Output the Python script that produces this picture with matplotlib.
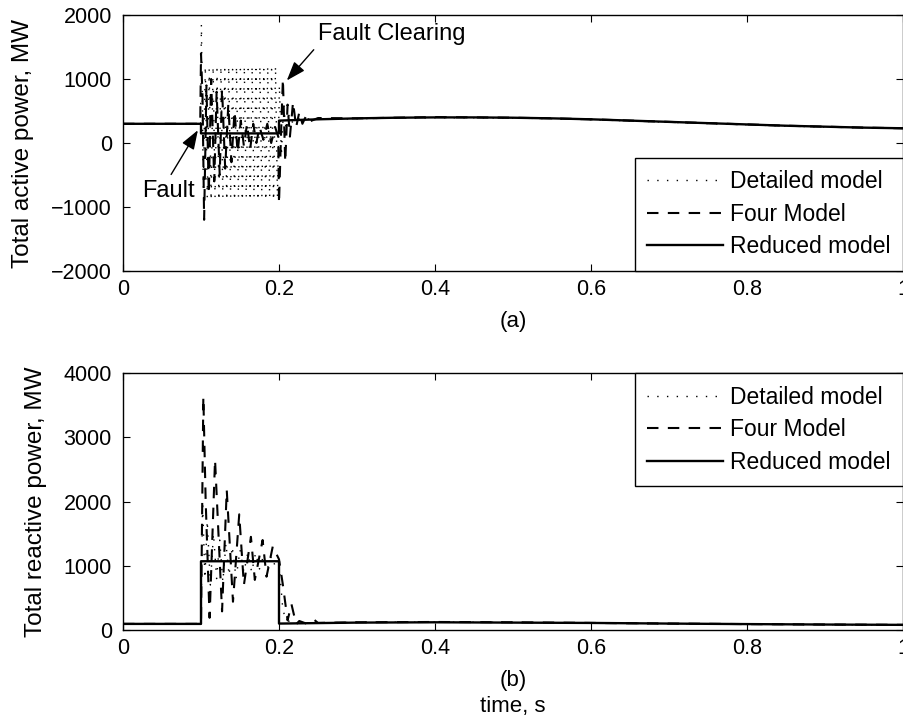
import matplotlib
matplotlib.use("Agg")
import matplotlib.pyplot as plt

plt.rcParams["font.family"] = ["Liberation Sans", "DejaVu Sans"]
plt.rcParams["font.size"] = 15.5

# ---- (a) total active power, MW ----
t_red_p = [0, 0.1, 0.1, 0.2, 0.2, 0.25, 0.3, 0.35, 0.4, 0.45, 0.5, 0.55, 0.6,
           0.65, 0.7, 0.75, 0.8, 0.85, 0.9, 0.95, 1.0]
p_red = [300, 300, 150, 150, 350, 370, 385, 395, 400, 400, 395, 385, 370,
         350, 330, 310, 290, 270, 255, 240, 230]

t_four_p = [0, 0.099, 0.100, 0.102, 0.104, 0.107, 0.110, 0.113, 0.117, 0.120,
            0.124, 0.127, 0.131, 0.135, 0.139, 0.143, 0.147, 0.151, 0.155,
            0.159, 0.163, 0.167, 0.171, 0.175, 0.180, 0.185, 0.190, 0.195,
            0.199, 0.200, 0.203, 0.205, 0.208, 0.211, 0.214, 0.218, 0.222,
            0.226, 0.230, 0.235, 0.240, 0.250, 0.3, 0.35, 0.4, 0.45, 0.5,
            0.55, 0.6, 0.65, 0.7, 0.75, 0.8, 0.85, 0.9, 0.95, 1.0]
p_four = [300, 300, 1400, 700, -1200, 900, -800, 1000, -600, 800,
          -500, 850, -400, 600, -300, 500, -150, 350, -50, 300, -100, 300,
          0, 250, 50, 300, 0, 250, 100, -950, 300, 1000, -300, 600, 100,
          640, 250, 480, 300, 430, 340, 390, 385, 395, 405, 400, 395,
          385, 370, 350, 330, 310, 290, 270, 255, 240, 230]

t_det_p = [0, 0.0995, 0.1005, 0.1030, 0.1055, 0.1080, 0.1105, 0.1130, 0.1155,
           0.1180, 0.1205, 0.1230, 0.1255, 0.1280, 0.1305, 0.1330, 0.1355,
           0.1380, 0.1405, 0.1430, 0.1455, 0.1480, 0.1505, 0.1530, 0.1555,
           0.1580, 0.1605, 0.1630, 0.1655, 0.1680, 0.1705, 0.1730, 0.1755,
           0.1780, 0.1805, 0.1830, 0.1855, 0.1880, 0.1905, 0.1930, 0.1955,
           0.1980, 0.2005, 0.2030, 0.2060, 0.2090, 0.2130, 0.2180, 0.2250,
           0.25, 0.3, 0.35, 0.4, 0.45, 0.5, 0.55, 0.6, 0.65, 0.7, 0.75, 0.8,
           0.85, 0.9, 0.95, 1.0]
p_det = [300, 300, 1850, -700, 1200, -850, 1150, -900, 1200, -850, 1150,
         -900, 1200, -850, 1150, -900, 1200, -850, 1150, -900, 1200, -850,
         1150, -900, 1200, -850, 1150, -900, 1200, -850, 1150, -900, 1200,
         -850, 1150, -900, 1200, -850, 1150, -900, 1200, -850, 900, -200,
         600, 200, 450, 300, 380, 370, 380, 390, 395, 395, 390, 380, 365,
         345, 325, 305, 285, 265, 250, 238, 228]

# ---- (b) total reactive power, MW ----
t_red_q = [0, 0.1, 0.1, 0.2, 0.2, 0.3, 0.4, 0.5, 0.6, 0.7, 0.8, 0.9, 1.0]
q_red = [95, 95, 1070, 1070, 100, 115, 120, 115, 110, 100, 92, 85, 80]

t_four_q = [0, 0.100, 0.101, 0.103, 0.106, 0.111, 0.118, 0.127, 0.133, 0.141,
            0.149, 0.155, 0.164, 0.169, 0.179, 0.184, 0.192, 0.200, 0.205,
            0.211, 0.216, 0.222, 0.226, 0.235, 0.245, 0.250, 0.3, 0.4, 0.5,
            0.6, 0.7, 0.8, 0.9, 1.0]
q_four = [95, 95, 1300, 3630, 2000, 190, 2650, 290, 2180, 440, 1800, 700,
          1450, 780, 1400, 830, 1300, 1100, 700, 150, 400, 90, 140, 100, 160,
          110, 120, 125, 120, 110, 100, 92, 85, 80]

t_det_q = [0, 0.100, 0.102, 0.105, 0.108, 0.112, 0.116, 0.120, 0.124, 0.128,
           0.132, 0.136, 0.140, 0.145, 0.150, 0.155, 0.160, 0.165, 0.170,
           0.175, 0.180, 0.185, 0.190, 0.195, 0.200, 0.205, 0.210, 0.220,
           0.230, 0.3, 0.4, 0.5, 0.6, 0.7, 0.8, 0.9, 1.0]
q_det = [95, 95, 2000, 800, 1700, 700, 1500, 800, 1400, 750, 1350, 850, 1300,
         800, 1250, 900, 1200, 900, 1200, 950, 1150, 950, 1150, 1000, 1050,
         300, 150, 100, 110, 118, 122, 118, 108, 98, 90, 84, 78]

fig = plt.figure(figsize=(9.04, 7.19), dpi=100)
ax1 = fig.add_axes([123 / 904, 1 - 271 / 719, 780 / 904, 256 / 719])
ax2 = fig.add_axes([123 / 904, 1 - 630 / 719, 780 / 904, 257 / 719])

dot_style = dict(color="black", lw=1.0, linestyle=(0, (1, 6)))
dash_style = dict(color="black", lw=1.5, linestyle=(0, (5.5, 4.5)))
solid_style = dict(color="black", lw=1.7, linestyle="-")

ax1.plot(t_det_p, p_det, label="Detailed model", **dot_style)
ax1.plot(t_four_p, p_four, label="Four Model", **dash_style)
ax1.plot(t_red_p, p_red, label="Reduced model", **solid_style)

ax2.plot(t_det_q, q_det, label="Detailed model", **dot_style)
ax2.plot(t_four_q, q_four, label="Four Model", **dash_style)
ax2.plot(t_red_q, q_red, label="Reduced model", **solid_style)

ax1.set_xlim(0, 1)
ax1.set_ylim(-2000, 2000)
ax1.set_yticks([-2000, -1000, 0, 1000, 2000])
ax1.set_ylabel("Total active power, MW", fontsize=17.5, labelpad=12)
ax1.set_xlabel("(a)", fontsize=16, labelpad=8)

ax2.set_xlim(0, 1)
ax2.set_ylim(0, 4000)
ax2.set_yticks([0, 1000, 2000, 3000, 4000])
ax2.set_ylabel("Total reactive power, MW", fontsize=17.5, labelpad=12)
ax2.set_xlabel("(b)\ntime, s", fontsize=16, labelpad=8, linespacing=1.3)

for ax in (ax1, ax2):
    ax.set_xticks([0, 0.2, 0.4, 0.6, 0.8, 1.0])
    ax.set_xticklabels(["0", "0.2", "0.4", "0.6", "0.8", "1"])
    ax.tick_params(direction="in", top=True, right=True, length=5, width=0.8,
                   labelsize=15.5)
    ax.tick_params(axis="x", pad=6)
    ax.tick_params(axis="y", pad=8)
    for s in ax.spines.values():
        s.set_linewidth(1.0)

leg_kw = dict(frameon=True, fancybox=False, edgecolor="black", framealpha=1,
              borderaxespad=0, handlelength=3.3, fontsize=16.5,
              labelspacing=0.42, borderpad=0.55, handletextpad=0.3)
l1 = ax1.legend(loc="lower right", **leg_kw)
l2 = ax2.legend(loc="upper right", **leg_kw)
for l in (l1, l2):
    l.get_frame().set_linewidth(1.0)

arrow = dict(arrowstyle="-|>,head_length=0.9,head_width=0.32",
             mutation_scale=13, lw=1.0, color="black", shrinkA=2, shrinkB=0)
ax1.annotate("Fault", xy=(0.096, 200), xytext=(0.0577, -744),
             fontsize=17, ha="center", va="center",
             arrowprops=dict(arrow, relpos=(0.5, 1.0)))
ax1.annotate("Fault Clearing", xy=(0.210, 977), xytext=(0.25, 1705),
             fontsize=17, ha="left", va="center",
             arrowprops=dict(arrow, relpos=(0.0, 0.0)))

fig.savefig("out.png", dpi=100)
